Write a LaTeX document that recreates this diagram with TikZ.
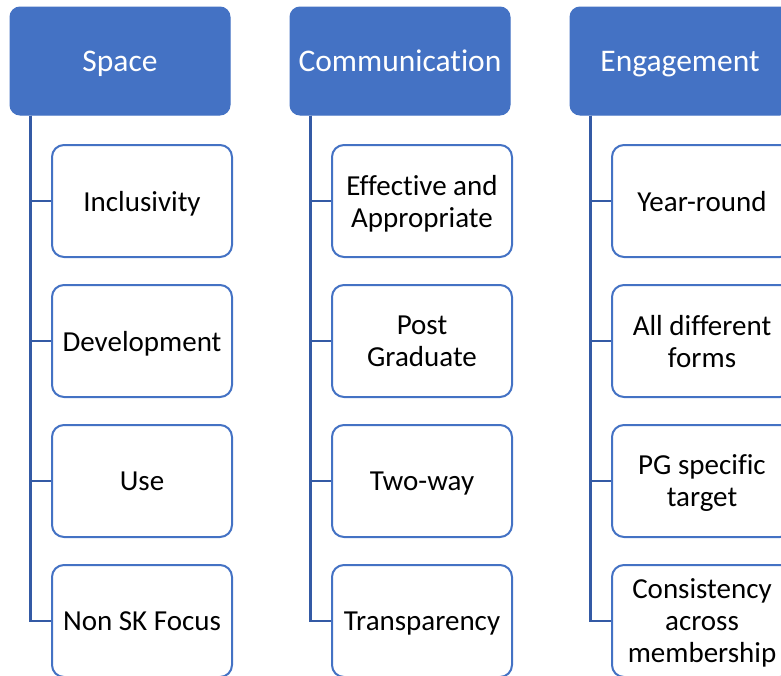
\documentclass[tikz,border=0pt]{standalone}
\usepackage{fontspec}
\setmainfont{Carlito}[Ligatures=NoCommon]
\definecolor{hdrblue}{RGB}{68,114,196}
\definecolor{linkblue}{RGB}{52,90,165}
\tikzset{
  header/.style={draw=hdrblue,fill=hdrblue,text=white,rounded corners=10pt,
    minimum width=220pt,minimum height=108pt,line width=1pt,text depth=0pt,
    font=\fontsize{31.5}{35}\selectfont},
  item/.style={draw=hdrblue,fill=white,rounded corners=12pt,line width=2pt,
    minimum width=180pt,minimum height=112pt,align=center,inner sep=2pt,
    text depth=0pt,font=\fontsize{29}{32}\selectfont},
  link/.style={draw=linkblue,line width=2.5pt}
}
\begin{document}
\begin{tikzpicture}[x=1pt,y=-1pt]
        \useasboundingbox (0,0) rectangle (781,675);
        % Headers
        \node[header] (space) at (120,61) {Space};
        \node[header] (comm) at (400,61) {Communication};
        \node[header] (eng) at (680,61) {Engagement};
        % Space items
        \node[item] (inc) at (142,201) {Inclusivity};
        \node[item] (dev) at (142,341) {Development};
        \node[item] (use) at (142,481) {Use};
        \node[item] (nonsk) at (142,621) {Non SK Focus};
        % Communication items
        \node[item] (eff) at (422,201) {Effective and\\Appropriate};
        \node[item] (post) at (422,341) {Post\\Graduate};
        \node[item] (two) at (422,481) {Two-way};
        \node[item] (trans) at (422,621) {Transparency};
        % Engagement items
        \node[item] (year) at (702,201) {Year-round};
        \node[item] (forms) at (702,341) {All different\\forms};
        \node[item] (pg) at (702,481) {PG specific\\target};
        \node[item] (cons) at (702,621) {Consistency\\across\\membership};
        % Links
        \foreach \h/\c in {space/inc,space/dev,space/use,space/nonsk,
                          comm/eff,comm/post,comm/two,comm/trans,
                          eng/year,eng/forms,eng/pg,eng/cons}
          \draw[link] ([xshift=21pt]\h.south west) |- (\c.west);
    \end{tikzpicture}
\end{document}
